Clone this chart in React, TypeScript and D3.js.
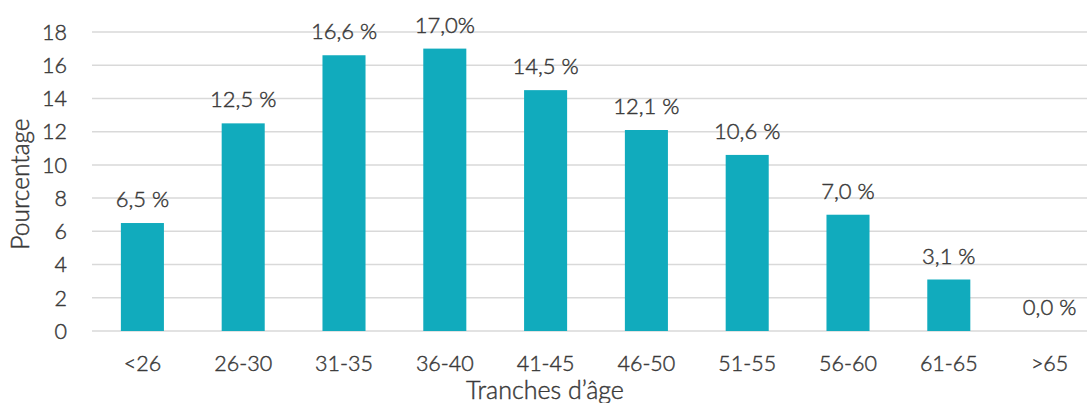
import React from "react";
import * as d3 from "d3";

// Répartition par tranches d'âge (en %)
const categories = ["<26", "26-30", "31-35", "36-40", "41-45", "46-50", "51-55", "56-60", "61-65", ">65"];
const values = [6.5, 12.5, 16.6, 17.0, 14.5, 12.1, 10.6, 7.0, 3.1, 0.0];
const valueLabels = ["6,5 %", "12,5 %", "16,6 %", "17,0%", "14,5 %", "12,1 %", "10,6 %", "7,0 %", "3,1 %", "0,0 %"];
const yTicks = [0, 2, 4, 6, 8, 10, 12, 14, 16, 18];

const W = 1087;
const H = 403;
const FONT = "Lato, 'Open Sans', sans-serif";
const TEXT = "#3a3a3a";

export default function App() {
  const x = d3
    .scaleBand<string>()
    .domain(categories)
    .range([92, 1100])
    .paddingInner(0.573)
    .paddingOuter(0.2865);
  const y = d3.scaleLinear().domain([0, 18]).range([331, 32]);

  return (
    <svg
      width={W}
      height={H}
      style={{ position: "absolute", left: 0, top: 0, display: "block", background: "#fff" }}
      fontFamily={FONT}
      fontWeight={300}
    >
      {/* grille horizontale */}
      {yTicks.map((t) => (
        <line key={"g" + t} x1={92} x2={1100} y1={y(t)} y2={y(t)} stroke="#d9d9d9" strokeWidth={1.5} />
      ))}
      {/* barres */}
      {categories.map((c, i) => (
        <rect
          key={"b" + c}
          x={x(c)}
          y={y(values[i])}
          width={x.bandwidth()}
          height={y(0) - y(values[i])}
          fill="#11abbd"
        />
      ))}
      <g fill={TEXT} stroke={TEXT} strokeWidth={0.45}>
        {/* graduations de l'axe Y */}
        {yTicks.map((t) => (
          <text key={"t" + t} x={67} y={y(t)} dy="0.36em" textAnchor="end" fontSize={21.5}>
            {t}
          </text>
        ))}
        {/* étiquettes de valeur */}
        {categories.map((c, i) => (
          <text
            key={"v" + c}
            x={(x(c) as number) + x.bandwidth() / 2}
            y={y(values[i]) - 16}
            textAnchor="middle"
            fontSize={22}
          >
            {valueLabels[i]}
          </text>
        ))}
        {/* catégories de l'axe X */}
        {categories.map((c) => (
          <text
            key={"c" + c}
            x={(x(c) as number) + x.bandwidth() / 2}
            y={371}
            textAnchor="middle"
            fontSize={21.5}
          >
            {c}
          </text>
        ))}
        {/* titres des axes */}
        <text transform="translate(29,184) rotate(-90)" textAnchor="middle" fontSize={24.5}>
          Pourcentage
        </text>
        <text x={545} y={399} textAnchor="middle" fontSize={25}>
          Tranches d’âge
        </text>
      </g>
    </svg>
  );
}
